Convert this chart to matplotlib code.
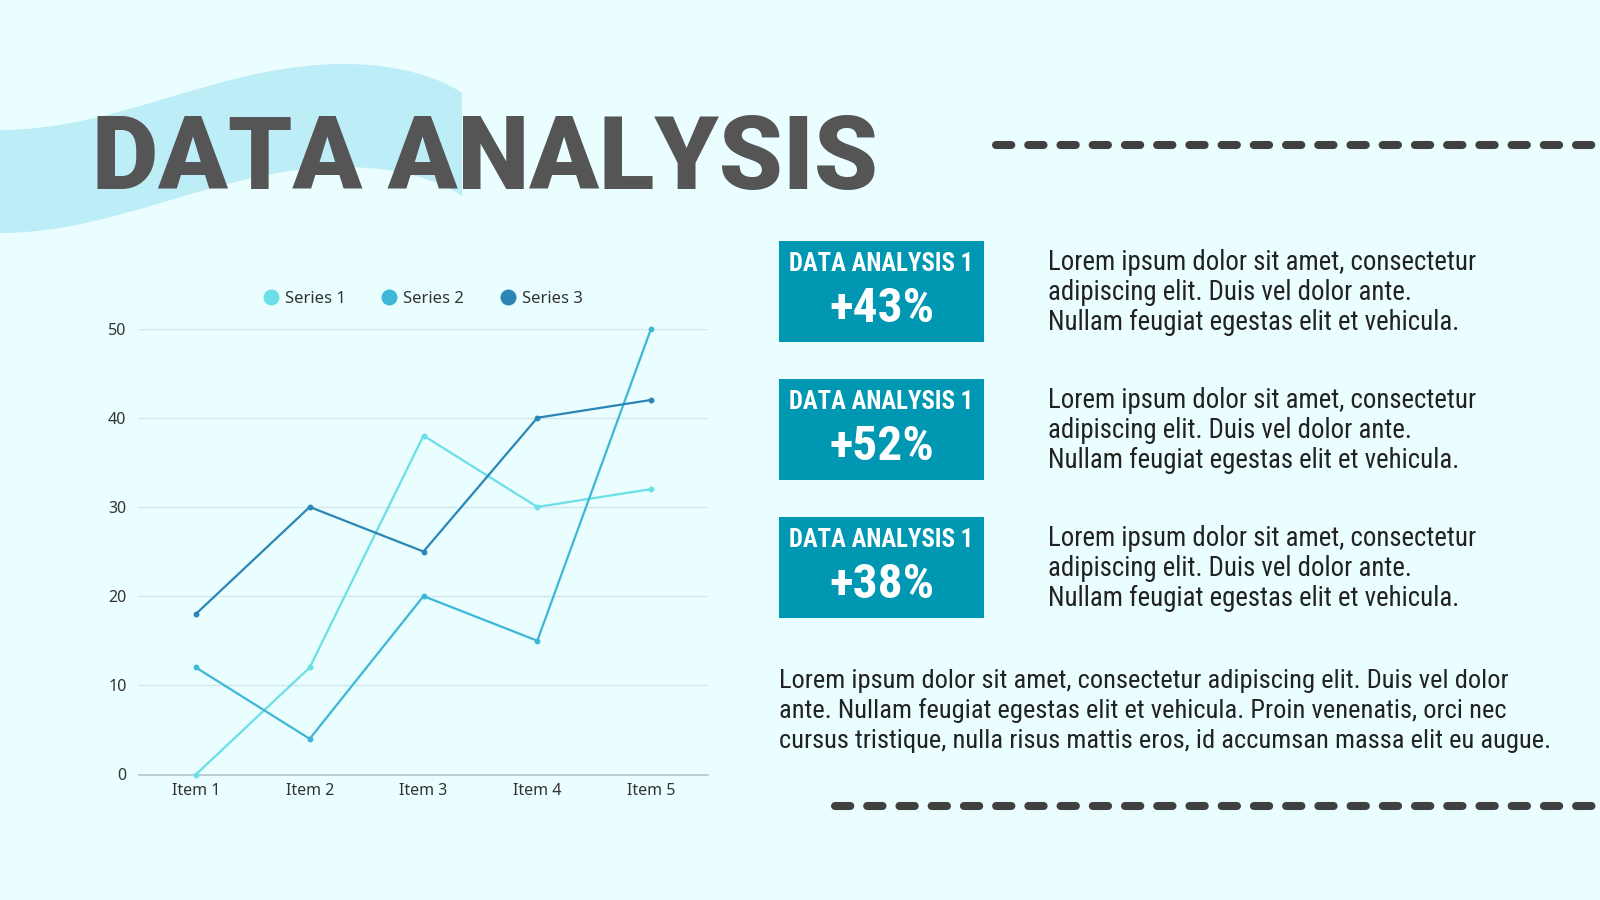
import matplotlib
matplotlib.use("Agg")
import matplotlib.pyplot as plt
from matplotlib.path import Path
from matplotlib.patches import PathPatch, Rectangle
from matplotlib.lines import Line2D
from matplotlib import font_manager

# ---------------- data ----------------
categories = ["Item 1", "Item 2", "Item 3", "Item 4", "Item 5"]
series_names = ["Series 1", "Series 2", "Series 3"]
series1 = [0, 12, 38, 30, 32]
series2 = [12, 4, 20, 15, 50]
series3 = [18, 30, 25, 40, 42]
y_ticks = [0, 10, 20, 30, 40, 50]

title_text = "DATA ANALYSIS"
box_labels = ["DATA ANALYSIS 1", "DATA ANALYSIS 1", "DATA ANALYSIS 1"]
box_values = ["+43%", "+52%", "+38%"]
side_lines = ["Lorem ipsum dolor sit amet, consectetur",
              "adipiscing elit. Duis vel dolor ante.",
              "Nullam feugiat egestas elit et vehicula."]
para_lines = ["Lorem ipsum dolor sit amet, consectetur adipiscing elit. Duis vel dolor",
              "ante. Nullam feugiat egestas elit et vehicula. Proin venenatis, orci nec",
              "cursus tristique, nulla risus mattis eros, id accumsan massa elit eu augue."]

# ---------------- style ----------------
BG = "#EAFDFF"
WAVE = "#BDEDF6"
DARK = "#555555"
TEAL = "#0097B2"
TXT = "#222222"
DASH = "#404040"
COLORS = ["#6ADFE8", "#3DB7D6", "#2A87B5"]

def pick(fams):
    names = {f.name for f in font_manager.fontManager.ttflist}
    for f in fams:
        if f in names:
            return f
    return "DejaVu Sans"

NARROW = pick(["Liberation Sans Narrow", "Roboto Condensed", "Liberation Sans"])
SANS = pick(["Noto Sans", "Open Sans", "DejaVu Sans"])
HEAVY = pick(["Roboto", "Inter", "Liberation Sans"])

W, H = 1600, 900
fig = plt.figure(figsize=(16, 9), dpi=100)
fig.patch.set_facecolor(BG)

bg = fig.add_axes([0, 0, 1, 1])
bg.set_xlim(0, W)
bg.set_ylim(H, 0)
bg.axis("off")
bg.set_zorder(0)

# wave band
verts = [(0, 130),
         (120, 130), (220, 64), (344, 64),
         (400, 64), (440, 78), (462, 93),
         (462, 196),
         (440, 181), (400, 167), (344, 167),
         (220, 167), (120, 233), (0, 233),
         (0, 130)]
codes = ([Path.MOVETO] + [Path.CURVE4] * 6 + [Path.LINETO] + [Path.CURVE4] * 6
         + [Path.CLOSEPOLY])
bg.add_patch(PathPatch(Path(verts, codes), facecolor=WAVE, edgecolor="none"))

fig.canvas.draw()
renderer = fig.canvas.get_renderer()

def fit_text(x, y, s, width, **kw):
    t = bg.text(x, y, s, fontsize=20, **kw)
    w = t.get_window_extent(renderer=renderer).width
    t.set_fontsize(20 * width / w)
    return t

# title
fit_text(92, 189, title_text, 786, color=DARK, fontweight=900,
         family=HEAVY, va="baseline", ha="left")

# dashed lines
for (x0, x1, y) in [(996, 1610, 145), (835, 1610, 806)]:
    ln = Line2D([x0, x1], [y, y], color=DASH, linewidth=5.8,
                solid_capstyle="round", dash_capstyle="round")
    ln.set_dashes((1.9, 2.1))
    bg.add_line(ln)

# boxes with side text
box_tops = [241, 379, 517]
for top, lab, val in zip(box_tops, box_labels, box_values):
    bg.add_patch(Rectangle((779, top), 205, 101, facecolor=TEAL, edgecolor="none"))
    fit_text(881.5, top + 30, lab, 185, color="white", fontweight="bold",
             family=NARROW, ha="center", va="baseline")
    fit_text(881.5, top + 81, val, 105, color="white", fontweight="bold",
             family=NARROW, ha="center", va="baseline")
    t0 = fit_text(1048, top + 29.5, side_lines[0], 428, color=TXT,
                  family=NARROW, ha="left", va="baseline")
    size = t0.get_fontsize()
    for i, s in enumerate(side_lines[1:], start=1):
        bg.text(1048, top + 29.5 + i * 29.8, s, fontsize=size, color=TXT,
                family=NARROW, ha="left", va="baseline")

# bottom paragraph
t = fit_text(779, 748, para_lines[2], 771, color=TXT, family=NARROW,
             ha="left", va="baseline")
psize = t.get_fontsize()
for i, s in enumerate(para_lines[:2]):
    bg.text(779, 688 + i * 30, s, fontsize=psize, color=TXT, family=NARROW,
            ha="left", va="baseline")

# ---------------- chart ----------------
x0, x1 = 139, 708
y0, y1 = 774.5, 328.6
ax = fig.add_axes([x0 / W, 1 - y0 / H, (x1 - x0) / W, (y0 - y1) / H])
ax.set_zorder(2)
ax.patch.set_alpha(0)
xs = list(range(len(categories)))
for data, name, c in zip([series1, series2, series3], series_names, COLORS):
    ax.plot(xs, data, color=c, linewidth=1.6, marker="o", markersize=3.2,
            label=name, clip_on=False, zorder=3)
ax.set_xlim(-0.5, len(categories) - 0.5)
ax.set_ylim(0, 50)
ax.set_yticks(y_ticks)
ax.set_xticks(xs)
ax.set_xticklabels(categories)
ax.grid(axis="y", color="#D3E6EA", linewidth=1)
ax.set_axisbelow(True)
for s in ["top", "right", "left"]:
    ax.spines[s].set_visible(False)
ax.spines["bottom"].set_color("#B5C5C9")
ax.spines["bottom"].set_linewidth(1.2)
ax.tick_params(length=0, labelsize=11.5, labelcolor="#333333", pad=9)
ax.tick_params(axis="x", pad=6)
for lab in ax.get_xticklabels() + ax.get_yticklabels():
    lab.set_family(SANS)
handles = [Line2D([], [], linestyle="none", marker="o", markersize=11.5,
                  markerfacecolor=c, markeredgecolor="none") for c in COLORS]
leg = ax.legend(handles, series_names, loc="lower center", bbox_to_anchor=(0.5, 1.015),
                ncol=3, frameon=False, handlelength=0.8, handletextpad=0.45,
                columnspacing=2.2, prop={"family": SANS, "size": 12})
for tx in leg.get_texts():
    tx.set_color("#333333")

fig.savefig("out.png", dpi=100, facecolor=BG)
